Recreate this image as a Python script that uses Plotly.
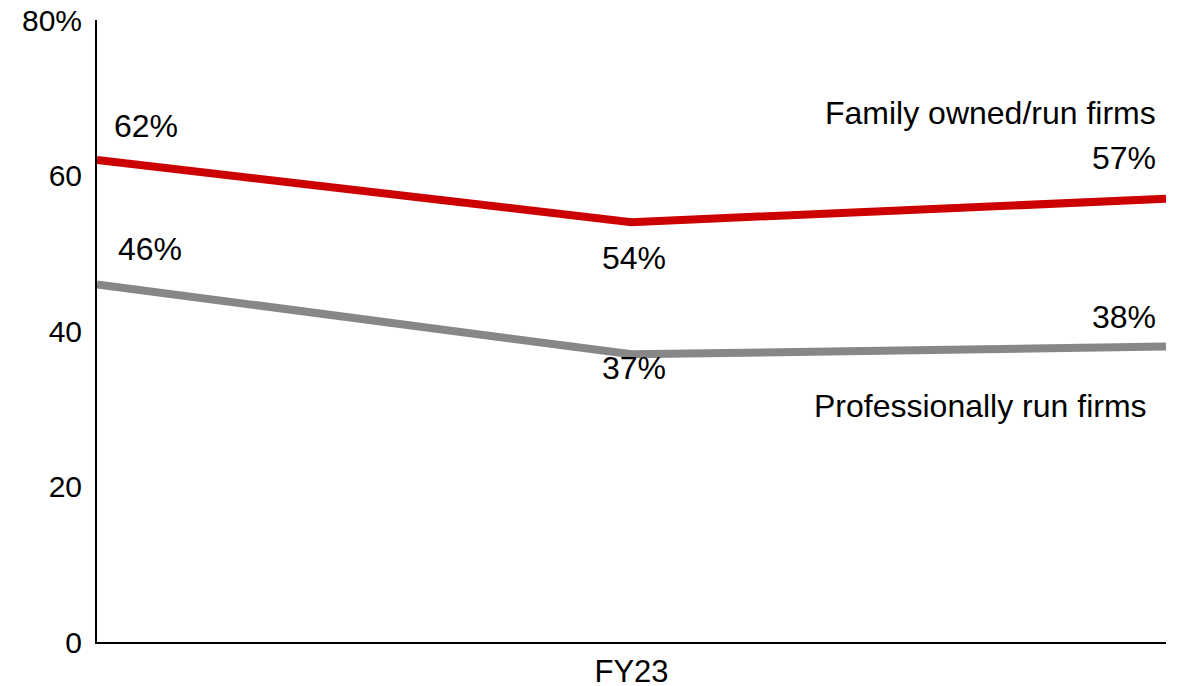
import plotly.graph_objects as go

# Period positions (only the middle one carries a label)
periods = [0, 1, 2]
tick_labels = ["", "FY23", ""]

family_owned = [62, 54, 57]
professional = [46, 37, 38]

y_ticks = [0, 20, 40, 60, 80]
y_tick_text = ["0", "20", "40", "60", "80%"]

RED = "#CC0000"
GREY = "#878787"
FONT = "Liberation Sans, Arial, sans-serif"
FS = 32

fig = go.Figure()
fig.add_trace(go.Scatter(x=periods, y=family_owned, mode="lines",
                         line=dict(color=RED, width=8), hoverinfo="skip",
                         name="Family owned/run firms"))
fig.add_trace(go.Scatter(x=periods, y=professional, mode="lines",
                         line=dict(color=GREY, width=8), hoverinfo="skip",
                         name="Professionally run firms"))

annotations = []
# value labels: (xshift, yshift, xanchor)
fam_offsets = [(49, 34, "center"), (2, -36, "center"), (-8, 41, "right")]
pro_offsets = [(53, 35, "center"), (2, -14, "center"), (-8, 30, "right")]
for xi, v, (dx, dy, xa) in zip(periods, family_owned, fam_offsets):
    annotations.append(dict(x=xi, y=v, text=f"{v}%", showarrow=False,
                            xshift=dx, yshift=dy, xanchor=xa,
                            font=dict(size=FS, color="black", family=FONT)))
for xi, v, (dx, dy, xa) in zip(periods, professional, pro_offsets):
    annotations.append(dict(x=xi, y=v, text=f"{v}%", showarrow=False,
                            xshift=dx, yshift=dy, xanchor=xa,
                            font=dict(size=FS, color="black", family=FONT)))

# series names
annotations.append(dict(x=2, y=family_owned[2], text="Family owned/run firms",
                        showarrow=False, xanchor="right", xshift=-8, yshift=86,
                        font=dict(size=FS, color="black", family=FONT)))
annotations.append(dict(x=2, y=professional[2], text="Professionally run firms",
                        showarrow=False, xanchor="right", xshift=-17, yshift=-59,
                        font=dict(size=FS, color="black", family=FONT)))

fig.update_layout(
    width=1183, height=686,
    margin=dict(l=97, r=17, t=20, b=44),
    paper_bgcolor="white", plot_bgcolor="white",
    showlegend=False,
    annotations=annotations,
    font=dict(family=FONT, size=FS, color="black"),
)
fig.update_xaxes(range=[0, 2], tickmode="array", tickvals=periods,
                 ticktext=tick_labels, showgrid=False, zeroline=False,
                 showline=True, linecolor="black", linewidth=2, ticks="",
                 automargin=False, ticklabelstandoff=1,
                 tickfont=dict(size=31, family=FONT, color="black"))
fig.update_yaxes(range=[0, 80], tickmode="array", tickvals=y_ticks,
                 ticktext=y_tick_text, showgrid=False, zeroline=False,
                 showline=True, linecolor="black", linewidth=2, ticks="",
                 automargin=False, ticklabelstandoff=7,
                 tickfont=dict(size=30, family=FONT, color="black"))

fig.write_html("out.html")
